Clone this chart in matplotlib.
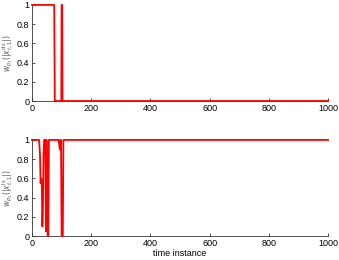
import matplotlib
matplotlib.use("Agg")
import matplotlib.pyplot as plt

# top panel breakpoints
t_top = [0, 75, 77, 99, 100, 102, 103, 1000]
w_top = [1, 1, 0, 0, 1, 1, 0, 0]

# bottom panel breakpoints
t_bot = [0, 24, 27, 29, 31, 33, 35, 37, 39, 41, 43, 45, 47, 49, 51, 53, 55, 57, 59,
         90, 92, 94, 96, 98, 100, 102, 104, 106, 1000]
w_bot = [1, 1, 0.85, 0.55, 0.6, 0.55, 0.1, 0.3, 0.85, 1, 1, 1, 0.05, 1, 0.3, 0.0, 0.0, 1, 1,
         1, 0.95, 0.9, 1, 1, 0, 0, 0, 1, 1]

labels = [r"$w_{p_1}(|x^{\rm ds}_{t,1}|)$", r"$w_{p_1}(|x^{\rm ls}_{t,1}|)$"]

plt.rcParams["font.family"] = "Liberation Sans"
plt.rcParams["font.size"] = 6.5

fig = plt.figure(figsize=(3.39, 2.6), dpi=100)
ax1 = fig.add_axes([0.0944, 0.6115, 0.8732, 0.3695])
ax2 = fig.add_axes([0.0944, 0.0923, 0.8732, 0.3695])

for ax, t, w, lab in [(ax1, t_top, w_top, labels[0]), (ax2, t_bot, w_bot, labels[1])]:
    ax.plot(t, w, color="#ff0000", lw=1.3, clip_on=False, zorder=3)
    ax.set_xlim(0, 1000)
    ax.set_ylim(0, 1)
    ax.set_xticks([0, 200, 400, 600, 800, 1000])
    ax.set_yticks([0, 0.2, 0.4, 0.6, 0.8, 1])
    ax.set_yticklabels(["0", "0.2", "0.4", "0.6", "0.8", "1"])
    ax.spines["top"].set_visible(False)
    ax.spines["right"].set_visible(False)
    for s in ("left", "bottom"):
        ax.spines[s].set_color("#333333")
        ax.spines[s].set_linewidth(0.6)
    ax.tick_params(direction="in", length=2.5, width=0.6, colors="#333333", pad=2,
                   labelcolor="black")
    ax.set_ylabel(lab, fontsize=5.5, color="#555555", labelpad=1)

ax2.set_xlabel("time instance", labelpad=1)

fig.savefig("out.png", dpi=100)
